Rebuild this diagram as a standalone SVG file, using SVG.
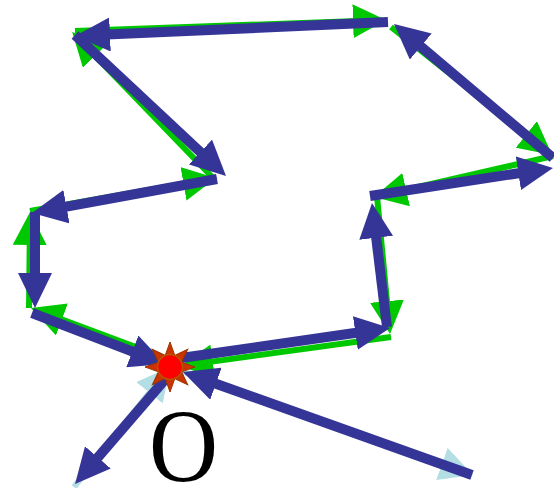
<svg xmlns="http://www.w3.org/2000/svg" width="554" height="488" viewBox="0 0 554 488">
<style>
.b{stroke:#353597;stroke-width:10;fill:none;marker-end:url(#mb)}
.g{stroke:#00c800;stroke-width:6;fill:none;marker-end:url(#mg)}
.l{stroke:#b3dee3;stroke-width:6;fill:none;marker-end:url(#ml)}
.spike{fill:#cc3300;stroke:#993300;stroke-width:1}
.lbl{font-family:"Liberation Serif","Times New Roman",serif;font-size:104px;fill:#000}
</style>
<defs>
<marker id="mb" viewBox="0 -17 35 34" markerWidth="35" markerHeight="34" refX="15" refY="0" orient="auto" markerUnits="userSpaceOnUse"><path d="M0,-17 L35,0 L0,17 z" fill="#353597"/></marker>
<marker id="mg" viewBox="0 -17 33 34" markerWidth="33" markerHeight="34" refX="19" refY="0" orient="auto" markerUnits="userSpaceOnUse"><path d="M0,-17 L33,0 L0,17 z" fill="#00c800"/></marker>
<marker id="ml" viewBox="0 -17 33 34" markerWidth="33" markerHeight="34" refX="19" refY="0" orient="auto" markerUnits="userSpaceOnUse"><path d="M0,-17 L33,0 L0,17 z" fill="#b3dee3"/></marker>
</defs>
<g id="connectors">
<g id="green">
<line class="g" x1="391" y1="337" x2="193.9" y2="364.1"/>
<line class="g" x1="377" y1="196" x2="388.7" y2="320.1"/>
<line class="g" x1="553" y1="156" x2="387.6" y2="193.9"/>
<line class="g" x1="391" y1="27" x2="541.2" y2="146.2"/>
<line class="g" x1="75" y1="31" x2="372" y2="20.5"/>
<line class="g" x1="215" y1="180" x2="81.9" y2="42.1"/>
<line class="g" x1="30" y1="211" x2="202.2" y2="180.5"/>
<line class="g" x1="29" y1="308" x2="29.9" y2="226"/>
<line class="g" x1="160" y1="356" x2="44.1" y2="312.9"/>
</g>
<g id="lightblue">
<line class="l" x1="74" y1="487" x2="161.3" y2="377.9"/>
<line class="l" x1="170" y1="367" x2="459.8" y2="470.3"/>
</g>
<g id="blue">
<line class="b" x1="181" y1="358" x2="370.2" y2="330.8"/>
<line class="b" x1="387" y1="327" x2="374.4" y2="222.9"/>
<line class="b" x1="370" y1="196" x2="533.2" y2="171"/>
<line class="b" x1="553" y1="158" x2="409.3" y2="36.9"/>
<line class="b" x1="388" y1="22" x2="95" y2="35.1"/>
<line class="b" x1="75" y1="35" x2="211.4" y2="162.3"/>
<line class="b" x1="217" y1="179" x2="51.7" y2="209.4"/>
<line class="b" x1="35" y1="212" x2="35" y2="288"/>
<line class="b" x1="32" y1="313" x2="146.3" y2="356.8"/>
<line class="b" x1="168" y1="376" x2="88.1" y2="468.8"/>
<line class="b" x1="472" y1="475" x2="201.8" y2="378.7"/>
</g>
</g>
<g id="origin">
<g transform="translate(170,367)">
<path class="spike" d="M-5,-11 L0,-25 L5,-11 z"/>
<path class="spike" d="M-5,-11 L0,-25 L5,-11 z" transform="rotate(45)"/>
<path class="spike" d="M-5,-11 L0,-25 L5,-11 z" transform="rotate(90)"/>
<path class="spike" d="M-5,-11 L0,-25 L5,-11 z" transform="rotate(135)"/>
<path class="spike" d="M-5,-11 L0,-25 L5,-11 z" transform="rotate(180)"/>
<path class="spike" d="M-5,-11 L0,-25 L5,-11 z" transform="rotate(225)"/>
<path class="spike" d="M-5,-11 L0,-25 L5,-11 z" transform="rotate(270)"/>
<path class="spike" d="M-5,-11 L0,-25 L5,-11 z" transform="rotate(315)"/>
<circle r="12.5" fill="#ff0000" stroke="#b35900" stroke-width="1.5"/>
</g>
<text class="lbl" text-anchor="middle" transform="translate(183.5,480.5) scale(0.92,1)">O</text>
</g>
</svg>
